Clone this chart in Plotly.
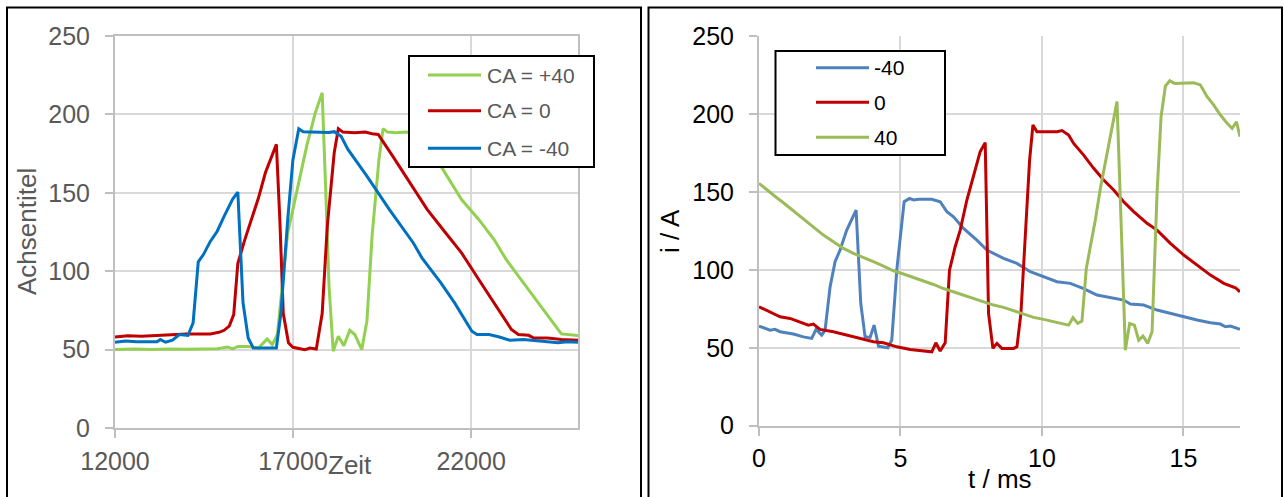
import plotly.graph_objects as go

W, H = 1284, 497

# ---------------- Left chart data (Zeit vs Achsentitel) ----------------
left_blue_x = [12000, 12300, 12600, 12900, 13179, 13275, 13420, 13614, 13807, 14048, 14193, 14338,
               14483, 14676, 14870, 15063, 15304, 15449, 15594, 15739, 15884, 16200, 16531, 16657,
               16850, 16995, 17160, 17285, 17500, 17768, 18000, 18155, 18348, 18541, 19073, 19701,
               20377, 20618, 21150, 21536, 22020, 22165, 22503, 22793, 23082, 23469, 23952, 24435,
               24700, 25000]
left_blue_y = [54.7, 55.5, 55.0, 55.2, 55.0, 56.4, 54.7, 56.0, 59.6, 59.0, 67.0, 106.0,
               110.6, 119.0, 125.5, 135.0, 146.0, 150.4, 80.0, 57.4, 51.0, 51.0, 51.0, 73.0,
               133.0, 171.0, 190.9, 189.0, 188.8, 189.0, 188.5, 189.0, 186.0, 177.7, 160.6, 139.4,
               118.0, 108.5, 92.5, 79.8, 61.7, 59.6, 59.6, 58.0, 56.0, 56.5, 55.3, 54.3,
               55.0, 54.7]

left_red_x = [12000, 12357, 12744, 13324, 14000, 14676, 14918, 15063, 15208, 15333, 15449, 15643,
              15836, 16029, 16222, 16416, 16531, 16628, 16725, 16870, 16995, 17333, 17478, 17652,
              17817, 17961, 18155, 18271, 18396, 18734, 19024, 19218, 19391, 19797, 20280, 20764,
              21247, 21730, 22213, 22696, 23131, 23324, 23614, 23759, 24145, 24532, 24822, 25000]
left_red_y = [58.1, 58.9, 58.5, 59.4, 60.0, 60.0, 61.0, 62.3, 65.0, 72.3, 105.0, 120.0,
              133.0, 146.8, 162.8, 174.5, 180.9, 133.0, 73.0, 54.3, 51.5, 50.0, 51.0, 50.4,
              73.0, 128.7, 175.5, 190.9, 188.7, 188.3, 188.7, 187.7, 187.2, 173.4, 156.4, 139.4,
              125.5, 111.7, 94.7, 77.7, 62.8, 59.6, 59.1, 57.4, 57.4, 56.4, 56.0, 56.0]

left_green_x = [12000, 12551, 13034, 13517, 14000, 14483, 14870, 15160, 15304, 15449, 15739, 16029,
                16126, 16271, 16416, 16560, 16705, 16850, 16995, 17188, 17382, 17623, 17817, 17913,
                18010, 18126, 18271, 18425, 18590, 18734, 18928, 19073, 19218, 19411, 19527, 19652,
                19894, 20184, 20522, 21150, 21730, 22213, 22648, 22986, 23469, 23952, 24338, 24532,
                25000]
left_green_y = [50.0, 50.4, 50.0, 50.4, 50.2, 50.4, 50.6, 51.7, 50.4, 52.0, 52.0, 51.0,
                53.2, 56.8, 53.2, 59.6, 92.5, 124.5, 139.4, 160.6, 179.8, 201.0, 213.8, 154.0,
                90.4, 49.0, 58.5, 52.5, 62.3, 59.6, 50.0, 68.0, 122.3, 171.3, 190.9, 188.7,
                188.3, 188.7, 187.5, 167.0, 145.7, 133.0, 120.0, 107.4, 92.5, 77.7, 66.0, 60.0,
                59.0]

left_names = ["CA = +40", "CA = 0", "CA = -40"]
left_x_ticks = [12000, 17000, 22000]

# ---------------- Right chart data (t / ms vs i / A) ----------------
right_blue_t = [0, 0.389, 0.566, 0.743, 1.215, 1.568, 1.863, 2.017, 2.217, 2.335, 2.512, 2.689,
                2.866, 3.101, 3.432, 3.597, 3.750, 3.927, 4.068, 4.222, 4.552, 4.693, 4.870, 5.130,
                5.318, 5.460, 5.637, 6.108, 6.403, 6.639, 6.875, 7.229, 7.700, 8.054, 8.644, 9.116,
                9.587, 10.059, 10.531, 11.002, 11.474, 11.946, 12.417, 12.889, 13.125, 13.597,
                14.068, 14.540, 15.012, 15.483, 15.955, 16.309, 16.486, 16.663, 17.0]
right_blue_i = [63.9, 61.3, 61.8, 60.3, 58.8, 57.0, 56.0, 61.8, 58.1, 61.3, 89.0, 105.2,
                112.7, 125.5, 138.3, 78.4, 57.0, 56.6, 64.5, 51.0, 50.0, 55.0, 100.0, 143.7,
                145.8, 144.8, 145.2, 145.2, 143.7, 137.3, 134.0, 126.6, 119.0, 112.7, 107.3, 104.1,
                98.8, 95.6, 92.4, 91.3, 88.0, 83.8, 82.3, 80.6, 78.0, 77.4,
                74.2, 72.0, 69.9, 67.8, 66.0, 65.2, 63.5, 63.9, 61.8]

right_red_t = [0, 0.389, 0.743, 1.097, 1.450, 1.745, 1.922, 2.158, 2.630, 3.101, 3.573, 4.045,
               4.399, 4.870, 5.342, 5.814, 6.108, 6.250, 6.403, 6.580, 6.733, 6.934, 7.111, 7.347,
               7.583, 7.818, 7.995, 8.113, 8.267, 8.408, 8.585, 8.998, 9.116, 9.257, 9.410, 9.564,
               9.682, 9.823, 10.059, 10.531, 10.708, 10.943, 11.120, 11.474, 11.828, 12.182, 12.535,
               12.889, 13.243, 13.715, 14.068, 14.540, 15.012, 15.483, 15.955, 16.427, 16.840, 17.0]
right_red_i = [76.3, 73.1, 69.9, 68.8, 66.7, 64.5, 65.2, 61.8, 60.3, 58.1, 56.0, 53.9,
               53.2, 50.6, 48.9, 47.9, 47.4, 53.2, 47.9, 53.2, 99.8, 114.8, 125.5, 144.8,
               159.7, 175.8, 181.6, 72.0, 49.6, 52.8, 49.6, 49.6, 50.6, 72.0, 121.2, 170.4,
               192.9, 188.6, 188.6, 188.6, 189.3, 186.5, 181.1, 173.6, 165.1, 157.6, 151.2,
               143.7, 137.3, 129.8, 125.5, 117.0, 109.5, 103.0, 96.6, 91.3, 88.5, 85.9]

right_green_t = [0, 0.212, 0.507, 0.861, 1.215, 1.568, 1.922, 2.276, 2.630, 2.983, 3.337, 3.691,
                 4.045, 4.399, 4.752, 5.106, 5.460, 5.814, 6.167, 6.521, 6.875, 7.229, 7.583, 7.936,
                 8.290, 8.644, 8.998, 9.351, 9.705, 10.059, 10.413, 10.767, 10.943, 11.097, 11.262,
                 11.415, 11.568, 11.710, 11.887, 12.064, 12.300, 12.476, 12.653, 12.795, 12.948,
                 13.101, 13.267, 13.420, 13.573, 13.738, 13.892, 14.068, 14.210, 14.363, 14.517,
                 14.682, 15.012, 15.366, 15.601, 15.837, 16.073, 16.309, 16.545, 16.722, 16.875, 17.0]
right_green_i = [155.5, 152.2, 148.0, 143.0, 137.9, 133.0, 127.6, 122.3, 118.0, 113.7, 110.5, 108.0,
                 105.2, 102.4, 99.4, 97.3, 95.1, 93.0, 90.6, 88.0, 85.9, 83.8, 81.7, 79.5,
                 77.4, 75.9, 73.7, 71.6, 69.5, 68.2, 66.7, 65.6, 64.5, 69.3, 65.6,
                 67.1, 100.9, 114.8, 131.9, 152.2, 174.7, 191.8, 207.9, 131.9, 48.5,
                 65.6, 64.5, 54.9, 57.5, 52.8, 60.3, 149.0, 198.2, 217.9, 221.3,
                 219.6, 219.6, 220.0, 218.6, 211.1, 205.7, 199.3, 194.0, 190.7, 195.0, 185.4]

right_names = ["-40", "0", "40"]

# ---------------- Styles ----------------
FONT = "Liberation Sans, Arial, sans-serif"
GRAY_TXT = "#595959"
GRID = "#D9D9D9"
AXIS = "#BFBFBF"
L_GREEN, L_RED, L_BLUE = "#92D050", "#C00000", "#0070C0"
R_BLUE, R_RED, R_GREEN = "#4F81BD", "#C00000", "#9BBB59"
LW = 3


def fx(p):
    return p / W


def fy(p):
    return 1 - p / H


fig = go.Figure()

left_series = [(left_green_x, left_green_y, L_GREEN, left_names[0]),
               (left_red_x, left_red_y, L_RED, left_names[1]),
               (left_blue_x, left_blue_y, L_BLUE, left_names[2])]
for xs, ys, c, n in left_series:
    fig.add_trace(go.Scatter(x=xs, y=ys, mode="lines", name=n, line=dict(color=c, width=LW),
                             xaxis="x", yaxis="y", showlegend=False))

right_series = [(right_blue_t, right_blue_i, R_BLUE, right_names[0]),
                (right_red_t, right_red_i, R_RED, right_names[1]),
                (right_green_t, right_green_i, R_GREEN, right_names[2])]
for xs, ys, c, n in right_series:
    fig.add_trace(go.Scatter(x=xs, y=ys, mode="lines", name=n, line=dict(color=c, width=LW),
                             xaxis="x2", yaxis="y2", showlegend=False))

common_axis = dict(showgrid=True, gridcolor=GRID, gridwidth=1.5, showline=True, linecolor=AXIS,
                   linewidth=2, ticks="outside", ticklen=8, tickwidth=1.5, tickcolor=AXIS,
                   zeroline=False, automargin=False, fixedrange=True)

fig.update_layout(
    width=W, height=H,
    margin=dict(l=0, r=0, t=0, b=0),
    paper_bgcolor="white", plot_bgcolor="white",
    template="none",
    showlegend=False,
    font=dict(family=FONT),
    xaxis=dict(domain=[fx(115), fx(578)], range=[12000, 25000], tickvals=left_x_ticks,
               tickformat="d", mirror=True, anchor="y",
               tickfont=dict(size=25, color=GRAY_TXT, family=FONT), ticklabelstandoff=2,
               **common_axis),
    yaxis=dict(domain=[fy(428), fy(36)], range=[0, 250], dtick=50, tick0=0, mirror=True,
               anchor="x", tickfont=dict(size=25, color=GRAY_TXT, family=FONT),
               ticklabelstandoff=10, **common_axis),
    xaxis2=dict(domain=[fx(759), fx(1240)], range=[0, 17], dtick=5, tick0=0, anchor="y2",
                tickfont=dict(size=25, color="black", family=FONT), ticklabelstandoff=1,
                **common_axis),
    yaxis2=dict(domain=[fy(425.7), fy(36)], range=[0, 250], dtick=50, tick0=0, anchor="x2",
                tickfont=dict(size=25, color="black", family=FONT), ticklabelstandoff=10,
                **common_axis),
)

shapes = []
annotations = []

# panel borders
shapes.append(dict(type="rect", xref="paper", yref="paper", x0=fx(7), x1=fx(641), y0=fy(505), y1=fy(7.5),
                   line=dict(color="black", width=2), fillcolor="rgba(0,0,0,0)", layer="above"))
shapes.append(dict(type="rect", xref="paper", yref="paper", x0=fx(648.5), x1=fx(1282), y0=fy(505), y1=fy(7.5),
                   line=dict(color="black", width=2), fillcolor="rgba(0,0,0,0)", layer="above"))

# left legend (manual, to match long line samples)
shapes.append(dict(type="rect", xref="paper", yref="paper", x0=fx(409), x1=fx(594), y0=fy(167), y1=fy(56),
                   line=dict(color="black", width=2), fillcolor="white", layer="above"))
for (xs, ys, c, n), yy in zip(left_series, [75, 110.7, 148.3]):
    shapes.append(dict(type="line", xref="paper", yref="paper", x0=fx(428), x1=fx(481), y0=fy(yy), y1=fy(yy),
                       line=dict(color=c, width=LW), layer="above"))
    annotations.append(dict(xref="paper", yref="paper", x=fx(485), y=fy(yy), text=n, showarrow=False,
                            xanchor="left", yanchor="middle", font=dict(size=21, color=GRAY_TXT, family=FONT)))

# right legend
shapes.append(dict(type="rect", xref="paper", yref="paper", x0=fx(775.5), x1=fx(945), y0=fy(155), y1=fy(51),
                   line=dict(color="black", width=2), fillcolor="white", layer="above"))
for (xs, ys, c, n), yy in zip(right_series, [67.7, 102.3, 137.3]):
    shapes.append(dict(type="line", xref="paper", yref="paper", x0=fx(816), x1=fx(869), y0=fy(yy), y1=fy(yy),
                       line=dict(color=c, width=LW), layer="above"))
    annotations.append(dict(xref="paper", yref="paper", x=fx(872), y=fy(yy), text=n, showarrow=False,
                            xanchor="left", yanchor="middle", font=dict(size=21, color="black", family=FONT)))

# axis titles
annotations.append(dict(xref="paper", yref="paper", x=fx(27), y=fy(232), text="Achsentitel", textangle=-90,
                        showarrow=False, xanchor="center", yanchor="middle",
                        font=dict(size=26, color=GRAY_TXT, family=FONT)))
annotations.append(dict(xref="paper", yref="paper", x=fx(350), y=fy(465), text="Zeit",
                        showarrow=False, xanchor="center", yanchor="middle",
                        font=dict(size=26, color=GRAY_TXT, family=FONT)))
annotations.append(dict(xref="paper", yref="paper", x=fx(670), y=fy(231), text="i / A", textangle=-90,
                        showarrow=False, xanchor="center", yanchor="middle",
                        font=dict(size=26, color="black", family=FONT)))
annotations.append(dict(xref="paper", yref="paper", x=fx(1000), y=fy(479), text="t / ms",
                        showarrow=False, xanchor="center", yanchor="middle",
                        font=dict(size=26, color="black", family=FONT)))

fig.update_layout(shapes=shapes, annotations=annotations)

fig.write_html("out.html", config=dict(displayModeBar=False),
               post_script="document.body.style.margin='0px';document.body.style.overflow='hidden';")
